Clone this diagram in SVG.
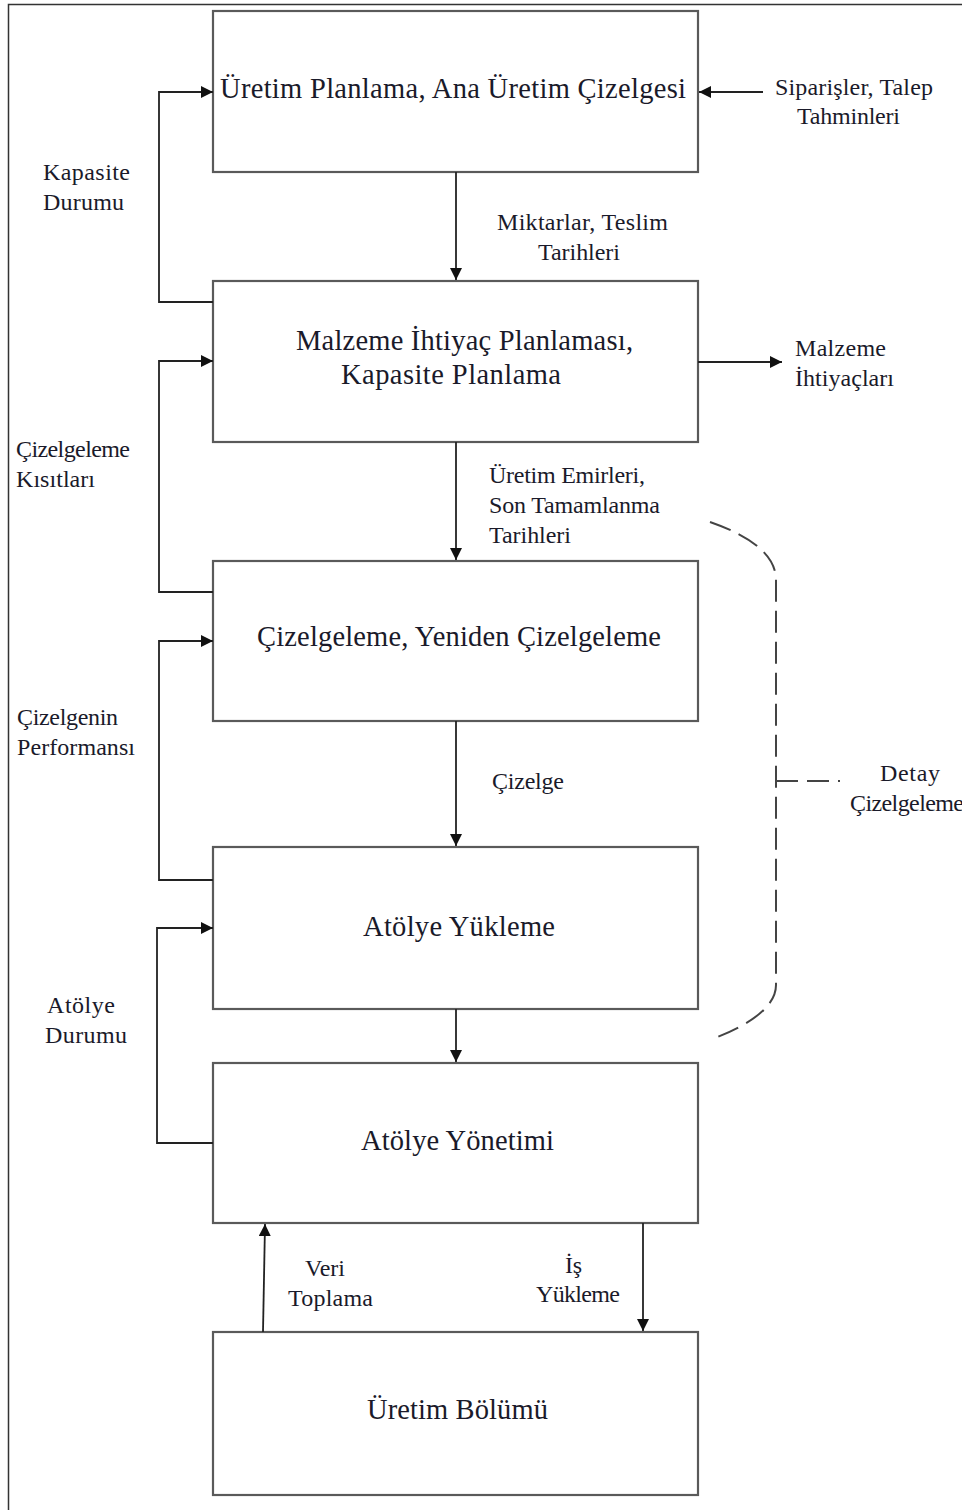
<svg xmlns="http://www.w3.org/2000/svg" width="962" height="1510" viewBox="0 0 962 1510">
<style>
.box{fill:#fff;stroke:#5a5a5a;stroke-width:2.2}
.t{font-family:"Liberation Serif",serif;font-size:28.5px;fill:#1a1a2a}
.l{font-family:"Liberation Serif",serif;font-size:24px;fill:#1a1a2a}
.c{fill:none;stroke:#222;stroke-width:1.8}
.d{fill:none;stroke:#444;stroke-width:2;stroke-dasharray:22,9}
</style>
<defs>
<marker id="a" viewBox="0 0 10 10" refX="10" refY="5" markerWidth="12" markerHeight="12" orient="auto" markerUnits="userSpaceOnUse">
<path d="M0,0 L10,5 L0,10 z" fill="#111"/>
</marker>
</defs>
<rect width="962" height="1510" fill="#fff"/>
<path d="M8.5,1510 V4.5 H962" fill="none" stroke="#333" stroke-width="1.5"/>

<g id="n1"><rect class="box" x="213" y="11" width="485" height="161"/><text class="t" x="220" y="98" textLength="466">Üretim Planlama, Ana Üretim Çizelgesi</text></g>
<g id="n2"><rect class="box" x="213" y="281" width="485" height="161"/><text class="t" x="296" y="350" textLength="337">Malzeme İhtiyaç Planlaması,</text><text class="t" x="341" y="384" textLength="220">Kapasite Planlama</text></g>
<g id="n3"><rect class="box" x="213" y="561" width="485" height="160"/><text class="t" x="257" y="646" textLength="404">Çizelgeleme, Yeniden Çizelgeleme</text></g>
<g id="n4"><rect class="box" x="213" y="847" width="485" height="162"/><text class="t" x="363" y="936" textLength="192">Atölye Yükleme</text></g>
<g id="n5"><rect class="box" x="213" y="1063" width="485" height="160"/><text class="t" x="361" y="1150" textLength="193">Atölye Yönetimi</text></g>
<g id="n6"><rect class="box" x="213" y="1332" width="485" height="163"/><text class="t" x="367" y="1419" textLength="181">Üretim Bölümü</text></g>

<g id="connectors">
<path class="c" d="M213,302 H159 V92 H213" marker-end="url(#a)"/>
<path class="c" d="M213,592 H159 V361 H213" marker-end="url(#a)"/>
<path class="c" d="M213,880 H159 V641 H213" marker-end="url(#a)"/>
<path class="c" d="M213,1143 H157 V928 H213" marker-end="url(#a)"/>
<path class="c" d="M456,172 V280" marker-end="url(#a)"/>
<path class="c" d="M456,442 V560" marker-end="url(#a)"/>
<path class="c" d="M456,721 V846" marker-end="url(#a)"/>
<path class="c" d="M456,1009 V1062" marker-end="url(#a)"/>
<path class="c" d="M763,92 H699" marker-end="url(#a)"/>
<path class="c" d="M698,362 H782" marker-end="url(#a)"/>
<path class="c" d="M263,1332 L265,1224" marker-end="url(#a)"/>
<path class="c" d="M643,1223 V1331" marker-end="url(#a)"/>
<path class="d" d="M710,522 Q776,545 776,580 V985 Q776,1015 710,1040"/>
<path class="d" d="M776,781 H840"/>
</g>

<g id="labels">
<text class="l" x="43" y="180" textLength="87">Kapasite</text>
<text class="l" x="43" y="210" textLength="81">Durumu</text>
<text class="l" x="16" y="457" textLength="114">Çizelgeleme</text>
<text class="l" x="16" y="487" textLength="79">Kısıtları</text>
<text class="l" x="17" y="725" textLength="101">Çizelgenin</text>
<text class="l" x="17" y="755" textLength="118">Performansı</text>
<text class="l" x="47" y="1013" textLength="68">Atölye</text>
<text class="l" x="45" y="1043" textLength="82">Durumu</text>
<text class="l" x="775" y="95" textLength="158">Siparişler, Talep</text>
<text class="l" x="797" y="124" textLength="103">Tahminleri</text>
<text class="l" x="497" y="230" textLength="171">Miktarlar, Teslim</text>
<text class="l" x="538" y="260" textLength="82">Tarihleri</text>
<text class="l" x="795" y="356" textLength="91">Malzeme</text>
<text class="l" x="795" y="386" textLength="99">İhtiyaçları</text>
<text class="l" x="489" y="483" textLength="156">Üretim Emirleri,</text>
<text class="l" x="489" y="513" textLength="171">Son Tamamlanma</text>
<text class="l" x="489" y="543" textLength="82">Tarihleri</text>
<text class="l" x="492" y="789" textLength="72">Çizelge</text>
<text class="l" x="880" y="781" textLength="60">Detay</text>
<text class="l" x="850" y="811" textLength="114">Çizelgeleme</text>
<text class="l" x="305" y="1276" textLength="40">Veri</text>
<text class="l" x="288" y="1306" textLength="85">Toplama</text>
<text class="l" x="565" y="1273" textLength="17">İş</text>
<text class="l" x="536" y="1302" textLength="84">Yükleme</text>
</g>
</svg>
